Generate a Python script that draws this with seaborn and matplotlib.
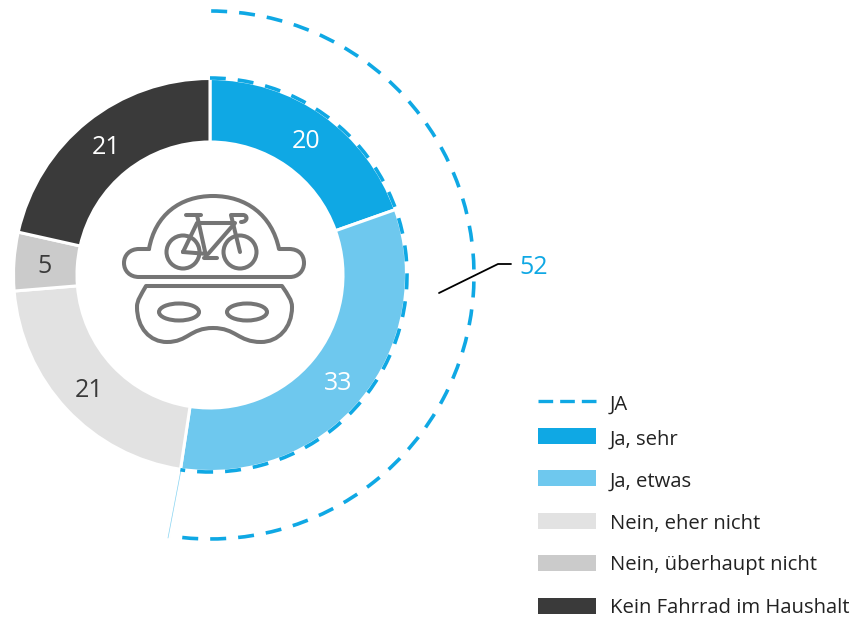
import numpy as np
import matplotlib.pyplot as plt
import seaborn as sns
from matplotlib.patches import Arc, Circle, Ellipse, PathPatch, Rectangle
from matplotlib.path import Path

# значения
categories = ['Ja, sehr', 'Ja, etwas', 'Nein, eher nicht', 'Nein, überhaupt nicht', 'Kein Fahrrad im Haushalt']
shares = [19.6, 32.8, 21.3, 4.8, 21.5]
share_labels = ['20', '33', '21', '5', '21']
label_colors = ['white', 'white', '#3A3A3A', '#3A3A3A', 'white']
colors = ['#0FA8E4', '#6EC8EE', '#E2E2E2', '#CBCBCB', '#3A3A3A']
total_name = 'JA'
total_label = '52'

sns.set_theme(style='white')
plt.rcParams['font.family'] = ['Open Sans', 'DejaVu Sans']

H = 618
ICON = '#757575'
TEXT = '#222222'


def py(y):
    return H - y


fig = plt.figure(figsize=(8.55, 6.18), dpi=100)
ax = fig.add_axes([0, 0, 1, 1])

# кольцо
cx, cy, r = 210, py(275), 196.5
wedges, _ = ax.pie(shares, colors=colors, startangle=90, counterclock=False, center=(cx, cy), radius=r,
                   wedgeprops={'width': 63.5, 'edgecolor': 'white', 'linewidth': 2.2}, frame=True)
ax.set_xlim(0, 855)
ax.set_ylim(0, H)
ax.set_aspect('equal')
ax.axis('off')

# подписи сегментов
start = 0
for share, lab, col in zip(shares, share_labels, label_colors):
    mid = np.deg2rad(90 - (start + share / 2) * 3.6)
    start += share
    ax.text(cx + 166 * np.cos(mid), cy + 166 * np.sin(mid) - 2.5, lab, color=col, fontsize=18,
            ha='center', va='center')

# пунктирные дуги JA
ja_end = 90 - (shares[0] + shares[1]) * 3.6
for rad, off in ((197, 3.1), (264, 4.43)):
    ax.add_patch(Arc((cx, cy), 2 * rad, 2 * rad, theta1=ja_end, theta2=90, color=colors[0], lw=2.6,
                     linestyle=(off, (4.431, 3.323))))
ax.plot([181, 168], [py(470), py(538)], color=colors[0], lw=0.5, alpha=0.5)

# выноска
ax.plot([439, 498, 511], [py(293), py(264), py(264)], color='black', lw=1.3)
ax.text(519, py(267), total_label, color=colors[0], fontsize=18, ha='left', va='center')


# значок: шляпа, велосипед, маска
def stroke(verts, codes):
    pts = [(x, py(y)) for x, y in verts]
    ax.add_patch(PathPatch(Path(pts, codes), fill=False, ec=ICON, lw=2.9, capstyle='round', joinstyle='round'))


M, L, C = Path.MOVETO, Path.LINETO, Path.CURVE4
stroke([(149, 249), (155, 215), (180, 196), (213, 196), (246, 196), (272, 215), (279, 249),
        (289, 249), (299, 249), (304, 255), (304, 263), (304, 271), (298, 277), (290, 277),
        (139, 277), (130, 277), (124, 271), (124, 263), (124, 255), (130, 249), (139, 249), (149, 249)],
       [M, C, C, C, C, C, C, L, C, C, C, C, C, C, L, C, C, C, C, C, C, L])
stroke([(137, 307), (137, 328), (150, 342), (167, 342), (188, 342), (190, 328), (213, 328),
        (236, 328), (238, 342), (261, 342), (278, 342), (292, 328), (292, 307),
        (292, 300), (288, 295), (282, 286), (146, 286), (141, 295), (137, 300), (137, 307)],
       [M, C, C, C, C, C, C, C, C, C, C, C, C, C, C, C, L, C, C, C])
for ex in (179, 247):
    ax.add_patch(Ellipse((ex, py(312)), 40, 17, fill=False, ec=ICON, lw=2.9))
for wx in (183, 240):
    ax.add_patch(Circle((wx, py(252)), 16.5, fill=False, ec=ICON, lw=2.9))
# рама
stroke([(183, 252), (197, 223), (235, 223), (208, 254), (183, 252)], [M, L, L, L, L])
stroke([(197, 215), (206, 256)], [M, L])
stroke([(186, 215), (201, 215)], [M, L])
stroke([(204, 258), (217, 258)], [M, L])
stroke([(240, 252), (231, 215), (243, 215), (248, 215), (248, 222), (241, 222)], [M, L, L, C, C, C])

# легенда
ax.plot([538, 596], [py(401), py(401)], color=colors[0], lw=2.4, linestyle=(0, (4.4, 2.1)))
ax.text(610, py(405), total_name, color=TEXT, fontsize=14.6, ha='left', va='center')
rect_y = [436, 478, 521, 563, 606]
text_y = [440, 482, 524, 565, 608]
for name, col, ry, ty in zip(categories, colors, rect_y, text_y):
    ax.add_patch(Rectangle((538, py(ry + 8)), 58, 16, color=col, lw=0))
    ax.text(610, py(ty), name, color=TEXT, fontsize=14.6, ha='left', va='center')

fig.savefig('out.png', dpi=100)
